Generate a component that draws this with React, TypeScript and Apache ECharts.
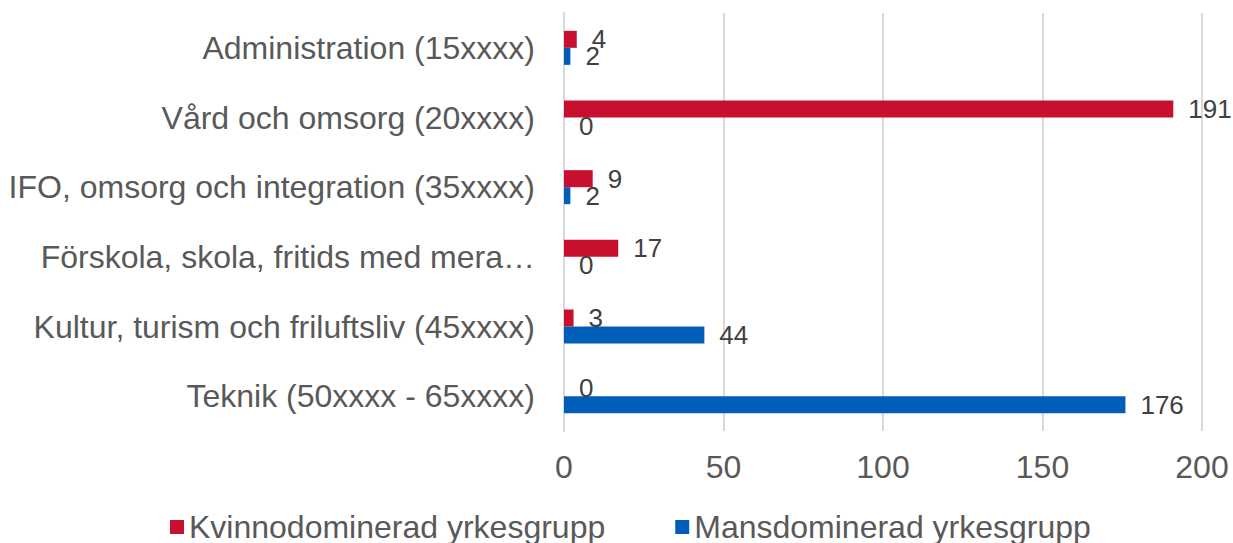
import React, { useEffect, useRef } from "react";
import * as echarts from "echarts";

const categories = [
  "Administration (15xxxx)",
  "Vård och omsorg (20xxxx)",
  "IFO, omsorg och integration (35xxxx)",
  "Förskola, skola, fritids med mera…",
  "Kultur, turism och friluftsliv (45xxxx)",
  "Teknik (50xxxx - 65xxxx)",
];
const kvinnoValues = [4, 191, 9, 17, 3, 0];
const mansValues = [2, 0, 2, 0, 44, 176];
const seriesNames = ["Kvinnodominerad yrkesgrupp", "Mansdominerad yrkesgrupp"];

export default function App() {
  const ref = useRef<HTMLDivElement>(null);
  useEffect(() => {
    if (!ref.current) return;
    const chart = echarts.init(ref.current, null, { renderer: "svg" });
    const font = "'Liberation Sans', Arial, sans-serif";
    const labelStyle = {
      show: true,
      position: "right" as const,
      distance: 15,
      color: "#404040",
      fontSize: 26,
      fontFamily: font,
    };
    chart.setOption({
      animation: false,
      textStyle: { fontFamily: font },
      grid: { left: 564, right: 31, top: 13, bottom: 112, containLabel: false },
      legend: {
        top: 506,
        left: 165,
        itemWidth: 14,
        itemHeight: 14,
        itemGap: 70,
        icon: "rect",
        textStyle: { fontSize: 32, color: "#595959", fontFamily: font },
        data: seriesNames,
      },
      xAxis: {
        type: "value",
        min: 0,
        max: 200,
        interval: 50,
        axisLine: { show: false },
        axisTick: { show: false },
        splitLine: { show: true, lineStyle: { color: "#D9D9D9", width: 2 } },
        axisLabel: { fontSize: 32, color: "#595959", margin: 20, fontFamily: font },
      },
      yAxis: {
        type: "category",
        inverse: true,
        data: categories,
        axisLine: { show: true, lineStyle: { color: "#D9D9D9", width: 2 } },
        axisTick: { show: false },
        axisLabel: { fontSize: 32, color: "#595959", margin: 29, fontFamily: font },
      },
      series: [
        {
          name: seriesNames[0],
          type: "bar",
          data: kvinnoValues,
          itemStyle: { color: "#C8102E" },
          barWidth: 17,
          barGap: "0%",
          label: labelStyle,
        },
        {
          name: seriesNames[1],
          type: "bar",
          data: mansValues,
          itemStyle: { color: "#005EB8" },
          barWidth: 17,
          barGap: "0%",
          label: labelStyle,
        },
      ],
    });
    return () => chart.dispose();
  }, []);
  return (
    <div
      ref={ref}
      style={{ position: "absolute", left: 0, top: 0, width: 1233, height: 543 }}
    />
  );
}
